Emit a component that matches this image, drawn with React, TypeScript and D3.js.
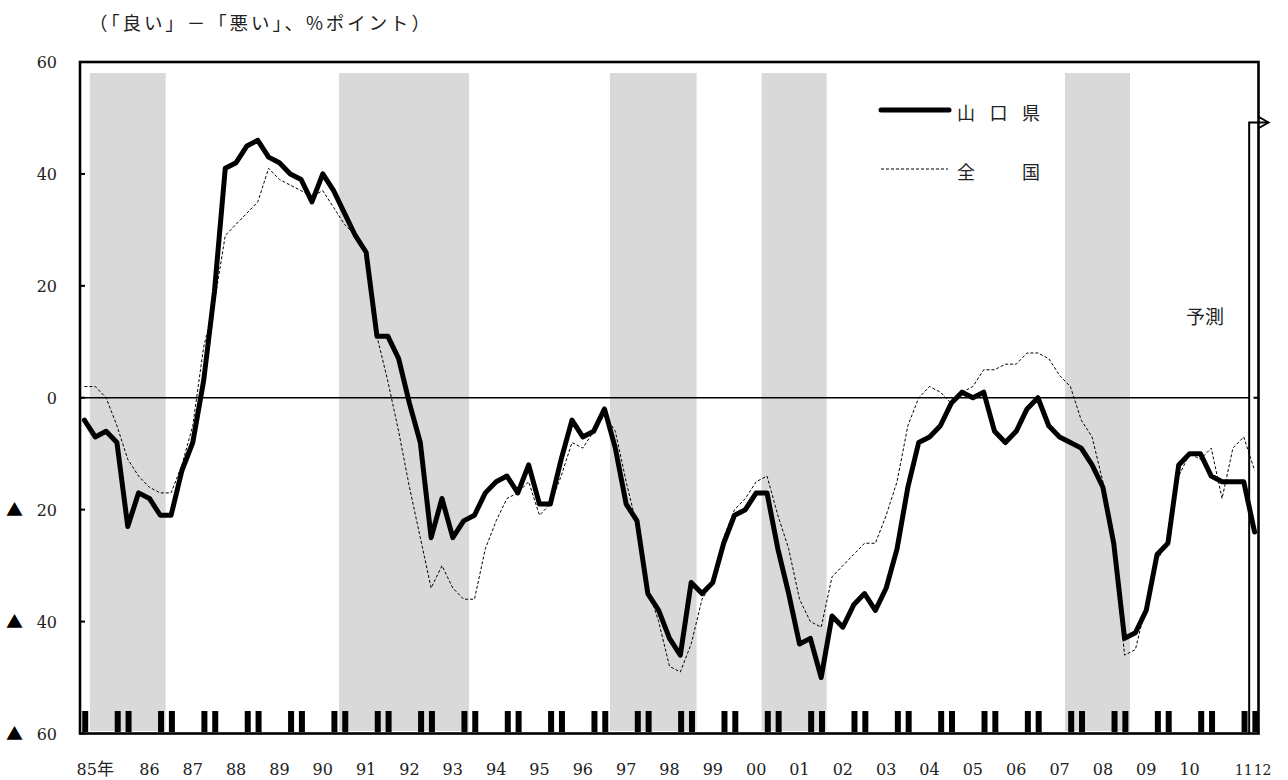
import * as d3 from 'd3'

// quarterly survey points, 1985Q1 .. 2012Q1 (last one is the forecast)
const quarters: string[] = []
for (let yr = 1985; yr <= 2012; yr++) {
  for (let q = 1; q <= 4; q++) {
    if (yr === 2012 && q > 1) break
    quarters.push(`${yr}Q${q}`)
  }
}

const yamaguchi = [
  -4, -7, -6, -8, -23, -17, -18, -21, -21, -13, -8, 3, 19, 41, 42, 45, 46, 43, 42, 40,
  39, 35, 40, 37, 33, 29, 26, 11, 11, 7, -1, -8, -25, -18, -25, -22, -21, -17, -15, -14,
  -17, -12, -19, -19, -11, -4, -7, -6, -2, -9, -19, -22, -35, -38, -43, -46, -33, -35, -33, -26,
  -21, -20, -17, -17, -27, -35, -44, -43, -50, -39, -41, -37, -35, -38, -34, -27, -16, -8, -7, -5,
  -1, 1, 0, 1, -6, -8, -6, -2, 0, -5, -7, -8, -9, -12, -16, -26, -43, -42, -38, -28,
  -26, -12, -10, -10, -14, -15, -15, -15, -24,
]

const zenkoku = [
  2, 2, 0, -5, -11, -14, -16, -17, -17, -12, -5, 9, 17, 29, 31, 33, 35, 41, 39, 38,
  37, 36, 37, 34, 31, 29, 26, 11, 3, -6, -16, -25, -34, -30, -34, -36, -36, -27, -22, -18,
  -17, -15, -21, -19, -14, -8, -9, -6, -3, -6, -15, -23, -34, -40, -48, -49, -44, -36, -33, -25,
  -20, -18, -15, -14, -21, -27, -36, -40, -41, -32, -30, -28, -26, -26, -21, -15, -5, 0, 2, 1,
  -1, 1, 2, 5, 5, 6, 6, 8, 8, 7, 4, 2, -4, -7, -15, -26, -46, -45, -37, -29,
  -26, -14, -10, -11, -9, -18, -9, -7, -13,
]

// 景気後退期 (shaded)
const recessions: [string, string][] = [
  ['1985Q2', '1986Q4'],
  ['1991Q1', '1993Q4'],
  ['1997Q2', '1999Q1'],
  ['2000Q4', '2002Q1'],
  ['2007Q4', '2009Q1'],
]

const yearLabelAt = [
  '1985Q2', '1986Q3', '1987Q3', '1988Q3', '1989Q3', '1990Q3', '1991Q3', '1992Q3', '1993Q3',
  '1994Q3', '1995Q3', '1996Q3', '1997Q3', '1998Q3', '1999Q3', '2000Q3', '2001Q3', '2002Q3',
  '2003Q3', '2004Q3', '2005Q3', '2006Q3', '2007Q3', '2008Q3', '2009Q3', '2010Q3', '2011Q4', '2012Q1',
]
const yearLabels = [
  '85', '86', '87', '88', '89', '90', '91', '92', '93', '94', '95', '96', '97', '98',
  '99', '00', '01', '02', '03', '04', '05', '06', '07', '08', '09', '10', '11', '12',
]

const yTicks = [60, 40, 20, 0, -20, -40, -60]
const forecastFrom = '2012Q1'

const NUM_FONT = 'DejaVu Serif'
const JP_FONT = 'Noto Sans CJK JP'

const App = () => {
  const width = 1288
  const height = 780
  const left = 80
  const right = 1258.5
  const top = 62
  const bottom = 733.5

  const x = d3.scaleBand<string>().domain(quarters).range([79, 1260]).padding(0)
  const cx = (q: string) => (x(q) || 0) + x.bandwidth() / 2
  const y = d3.scaleLinear().domain([-60, 60]).range([bottom, top])

  const line = d3.line<number>()
    .x((_, i) => cx(quarters[i]))
    .y(d => y(d))

  const markers = quarters.filter(q => q.endsWith('Q4') || q.endsWith('Q1'))
  const bracketX = x(forecastFrom) || 0

  const last = yearLabels.length - 1
  const labelAnchor = (i: number) => (i === last - 1 ? 'end' : i === last ? 'start' : 'middle')
  const labelX = (i: number) => {
    if (i === last - 1) return bracketX + 3.5
    if (i === last) return bracketX + 4.5
    return cx(yearLabelAt[i])
  }

  return (
    <div style={{ position: 'absolute', left: 0, top: 0 }}>
      <svg width={width} height={height} style={{ display: 'block', background: '#fff' }}>
        <text x={89} y={30} fontFamily={JP_FONT} fontSize={18.5} fill="#222"
          textLength={341} lengthAdjust="spacing">（「良い」－「悪い」、%ポイント）</text>

        {recessions.map(([a, b]) => (
          <rect key={a} x={x(a)} y={73} width={(x(b) || 0) + x.bandwidth() - (x(a) || 0)}
            height={731 - 73} fill="#d9d9d9" />
        ))}

        {markers.map(q => (
          <rect key={q} x={cx(q) - 2.2} y={711} width={6} height={21} fill="#000" />
        ))}

        <line x1={left} x2={bracketX} y1={y(0)} y2={y(0)} stroke="#000" strokeWidth={1.3} />

        {yTicks.map(t => (
          <line key={t} x1={left} x2={left + 5} y1={y(t)} y2={y(t)} stroke="#000" strokeWidth={2} />
        ))}
        <line x1={right - 5} x2={right} y1={y(0)} y2={y(0)} stroke="#000" strokeWidth={2} />

        <path d={line(zenkoku) || ''} fill="none" stroke="#000" strokeWidth={1}
          strokeDasharray="3,2" />
        <path d={line(yamaguchi) || ''} fill="none" stroke="#000" strokeWidth={5}
          strokeLinejoin="round" strokeLinecap="round" />

        <rect x={left} y={top} width={right - left} height={bottom - top}
          fill="none" stroke="#000" strokeWidth={2.6} />

        {/* 予測 bracket */}
        <path d={`M${bracketX},${bottom} V${122.5} H${1268}`} fill="none" stroke="#000" strokeWidth={2} />
        <path d="M1258,116.5 L1268.5,122.5 L1258,128.5" fill="none" stroke="#000" strokeWidth={2} />
        <text x={1205} y={324} textAnchor="middle" fontFamily={JP_FONT} fontSize={19} fill="#222">予測</text>

        {yTicks.map(t => (
          <g key={t}>
            {t < 0 && (
              <text x={6} y={y(t) + 6.5} fontFamily={JP_FONT} fontSize={17} fill="#000">▲</text>
            )}
            <text x={57} y={y(t) + 6} textAnchor="end" fontFamily={NUM_FONT} fontSize={16} fill="#222">
              {Math.abs(t)}
            </text>
          </g>
        ))}

        {yearLabels.map((lab, i) => (
          <text key={lab} x={labelX(i)} y={775} textAnchor={labelAnchor(i)}
            fontFamily={NUM_FONT} fontSize={i >= last - 1 ? 14 : 16} fill="#222">
            {lab}
            {i === 0 && <tspan fontFamily={JP_FONT} fontSize={17}>年</tspan>}
          </text>
        ))}

        {/* legend */}
        <line x1={881} x2={949} y1={110} y2={110} stroke="#000" strokeWidth={5} strokeLinecap="round" />
        <text x={957} y={120} fontFamily={JP_FONT} fontSize={18} fill="#222"
          textLength={83} lengthAdjust="spacing">山口県</text>
        <line x1={881} x2={948} y1={169} y2={169} stroke="#000" strokeWidth={1} strokeDasharray="3,2" />
        <text x={957} y={179} fontFamily={JP_FONT} fontSize={18} fill="#222"
          textLength={83} lengthAdjust="spacing">全国</text>
      </svg>
    </div>
  )
}

export default App
